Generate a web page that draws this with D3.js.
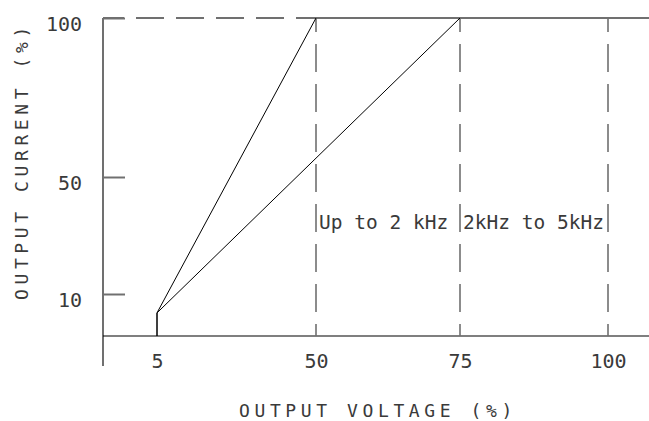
<!DOCTYPE html>
<html>
<head>
<meta charset="utf-8">
<script src="https://cdn.jsdelivr.net/npm/d3@7"></script>
<style>
  body { margin: 0; background: #fff; }
  text { font-family: "DejaVu Sans Mono", monospace; fill: #3a3a3a; }
</style>
</head>
<body>
<div id="chart"></div>
<script>
/* Data */
const X_TICKS = [5, 50, 75, 100]
const Y_TICKS = [10, 50, 100]
const BAND_LINES = [50, 75, 100]
const LINE_UP_TO_2K = [[5, 0], [5, 5.5], [50, 100]]
const LINE_2K_TO_5K = [[5, 0], [5, 5.5], [75, 100]]
const BAND_LABELS = ["Up to 2 kHz", "2kHz to 5kHz"]

/* Layout */
const WIDTH = 649
const HEIGHT = 421
const AXIS_X = 103
const GRAY = "#707070"
const INK = "#3a3a3a"

const svg = d3.select("#chart").append("svg")
  .attr("width", WIDTH)
  .attr("height", HEIGHT);

// scales are piecewise: the original axis is not evenly spaced
const x = d3.scaleLinear().domain([5, 50, 75, 100]).range([157, 316, 460, 608]);
const y = d3.scaleLinear().domain([0, 10, 50, 100]).range([336, 294, 177, 18]);

/* Y axis: ticks point inwards, labels on the left */
const yAxis = d3.axisLeft(y).tickValues(Y_TICKS).tickSize(-22).tickPadding(21);
const gy = svg.append("g").attr("transform", "translate(" + AXIS_X + ",0)").call(yAxis);
gy.select(".domain").remove();
gy.selectAll(".tick line").attr("stroke", GRAY).attr("stroke-width", 2);
gy.selectAll(".tick text").attr("font-size", 20).attr("dy", "0.6em").attr("fill", INK);

svg.append("line")
  .attr("x1", AXIS_X).attr("x2", AXIS_X)
  .attr("y1", y(100)).attr("y2", 366)
  .attr("stroke", GRAY).attr("stroke-width", 2);

/* X axis */
const xAxis = d3.axisBottom(x).tickValues(X_TICKS).tickSize(0).tickPadding(18);
const gx = svg.append("g").attr("transform", "translate(0," + y(0) + ")").call(xAxis);
gx.select(".domain").remove();
gx.selectAll(".tick text").attr("font-size", 20).attr("fill", INK);

svg.append("line")
  .attr("x1", AXIS_X).attr("x2", WIDTH)
  .attr("y1", y(0)).attr("y2", y(0))
  .attr("stroke", "#000").attr("stroke-width", 1.2);

/* Top line: dashed up to 50%, solid after */
svg.append("line")
  .attr("x1", AXIS_X).attr("x2", x(50))
  .attr("y1", y(100)).attr("y2", y(100))
  .attr("stroke", GRAY).attr("stroke-width", 2)
  .attr("stroke-dasharray", "28,12").attr("stroke-dashoffset", 7);
svg.append("line")
  .attr("x1", x(50)).attr("x2", WIDTH)
  .attr("y1", y(100)).attr("y2", y(100))
  .attr("stroke", GRAY).attr("stroke-width", 2);

/* Dashed band boundaries */
svg.selectAll(".band")
  .data(BAND_LINES)
  .enter()
  .append("line")
  .attr("class", "band")
  .attr("x1", (d) => x(d)).attr("x2", (d) => x(d))
  .attr("y1", y(100)).attr("y2", y(0))
  .attr("stroke", GRAY).attr("stroke-width", 1.6)
  .attr("stroke-dasharray", "28,12").attr("stroke-dashoffset", 14);

/* Derating lines */
const line = d3.line().x((d) => x(d[0])).y((d) => y(d[1]));
svg.selectAll(".derate")
  .data([LINE_UP_TO_2K, LINE_2K_TO_5K])
  .enter()
  .append("path")
  .attr("class", "derate")
  .attr("d", line)
  .attr("fill", "none")
  .attr("stroke", "#000")
  .attr("stroke-width", 1);

/* Band labels */
svg.selectAll(".bandlabel")
  .data(BAND_LABELS)
  .enter()
  .append("text")
  .attr("class", "bandlabel")
  .attr("x", (d, i) => x(BAND_LINES[i]) + 3)
  .attr("y", 229)
  .attr("font-size", 19.5)
  .text((d) => d);

/* Axis titles */
svg.append("text")
  .attr("x", 378)
  .attr("y", 417)
  .attr("text-anchor", "middle")
  .attr("font-size", 18)
  .attr("letter-spacing", 4.6)
  .text("OUTPUT VOLTAGE (%)");

svg.append("text")
  .attr("transform", "translate(28,161) rotate(-90)")
  .attr("text-anchor", "middle")
  .attr("font-size", 18)
  .attr("letter-spacing", 4.6)
  .text("OUTPUT CURRENT (%)");
</script>
</body>
</html>
